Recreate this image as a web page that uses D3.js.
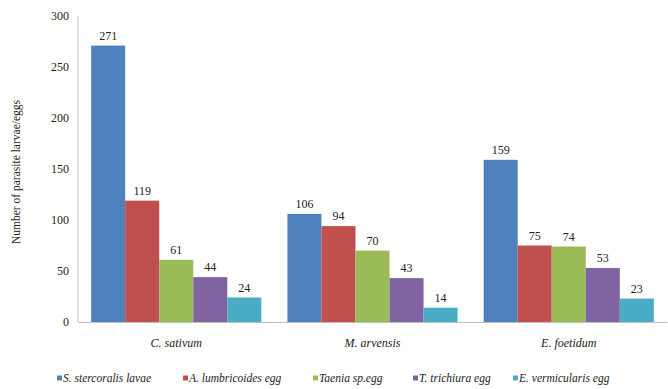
<!DOCTYPE html>
<html>
<head>
<meta charset="utf-8">
<script src="https://cdn.jsdelivr.net/npm/d3@7"></script>
<style>
  body { margin: 0; background: #fff; }
  .axis path, .axis line { stroke: #bfbfbf; }
</style>
</head>
<body>
<div id="chart"></div>
<script>
// data
var plants = ["C. sativum", "M. arvensis", "E. foetidum"];
var parasites = ["S. stercoralis lavae", "A. lumbricoides egg", "Taenia sp.egg", "T. trichiura egg", "E. vermicularis egg"];
var sStercoralis = [271, 106, 159];
var aLumbricoides = [119, 94, 75];
var taenia = [61, 70, 74];
var tTrichiura = [44, 43, 53];
var eVermicularis = [24, 14, 23];
var yTicks = [0, 50, 100, 150, 200, 250, 300];
var colors = ["#4f81bd", "#c0504d", "#9bbb59", "#8064a2", "#4bacc6"];

var series = [sStercoralis, aLumbricoides, taenia, tTrichiura, eVermicularis];
var FONT = "'Liberation Serif', 'DejaVu Serif', serif";

var W = 668, H = 389;
var margin = {top: 16, right: 1, bottom: 67, left: 78};
var w = W - margin.left - margin.right;
var h = H - margin.top - margin.bottom;

var svg = d3.select('#chart').append('svg')
  .attr('width', W)
  .attr('height', H)
  .attr('font-family', FONT);

var g = svg.append('g')
  .attr('transform', 'translate(' + margin.left + ',' + margin.top + ')');

var x0 = d3.scaleBand().domain(plants).range([0, w]).paddingInner(0.133).paddingOuter(0.067);
var x1 = d3.scaleBand().domain(d3.range(parasites.length)).range([0, x0.bandwidth()]);
var y = d3.scaleLinear().domain([0, 300]).range([h, 0]);

// y axis
var yAxis = g.append('g').attr('class', 'axis')
  .call(d3.axisLeft(y).tickValues(yTicks).tickSize(0).tickPadding(9));
yAxis.attr('font-family', FONT).attr('font-size', 12);
yAxis.selectAll('text').attr('fill', '#222');
yAxis.select('.domain').attr('d', 'M0,0V' + h);

// bars
var groups = g.selectAll('.plant')
  .data(plants)
  .enter().append('g')
  .attr('class', 'plant')
  .attr('transform', function(d){ return 'translate(' + x0(d) + ',0)'; });

groups.selectAll('rect')
  .data(function(d, i){ return series.map(function(s, k){ return {k: k, v: s[i]}; }); })
  .enter().append('rect')
  .attr('x', function(d){ return x1(d.k); })
  .attr('y', function(d){ return y(d.v); })
  .attr('width', x1.bandwidth())
  .attr('height', function(d){ return h - y(d.v); })
  .attr('fill', function(d){ return colors[d.k]; });

groups.selectAll('.val')
  .data(function(d, i){ return series.map(function(s, k){ return {k: k, v: s[i]}; }); })
  .enter().append('text')
  .attr('class', 'val')
  .attr('x', function(d){ return x1(d.k) + x1.bandwidth() / 2; })
  .attr('y', function(d){ return y(d.v) - 6; })
  .attr('text-anchor', 'middle')
  .attr('font-size', 12)
  .attr('fill', '#222')
  .text(function(d){ return d.v; });

// x axis
var xAxis = g.append('g').attr('class', 'axis')
  .attr('transform', 'translate(0,' + h + ')')
  .call(d3.axisBottom(x0).tickSize(0).tickPadding(16));
xAxis.attr('font-family', FONT).attr('font-size', 12);
xAxis.selectAll('text').attr('font-style', 'italic').attr('fill', '#222');

// y title
svg.append('text')
  .attr('transform', 'translate(20,172) rotate(-90)')
  .attr('text-anchor', 'middle')
  .attr('font-size', 11.5)
  .attr('fill', '#222')
  .text('Number of parasite larvae/eggs');

// legend
var legendX = [57, 183, 313, 413, 513];
var legend = svg.append('g').attr('transform', 'translate(0,378)');
var items = legend.selectAll('g')
  .data(parasites)
  .enter().append('g')
  .attr('transform', function(d, i){ return 'translate(' + legendX[i] + ',0)'; });
items.append('rect')
  .attr('x', 0).attr('y', -2.5)
  .attr('width', 5).attr('height', 5)
  .attr('fill', function(d, i){ return colors[i]; });
items.append('text')
  .attr('x', 6).attr('y', 4)
  .attr('font-size', 11.5)
  .attr('font-style', 'italic')
  .attr('fill', '#222')
  .text(function(d){ return d; });
</script>
</body>
</html>
